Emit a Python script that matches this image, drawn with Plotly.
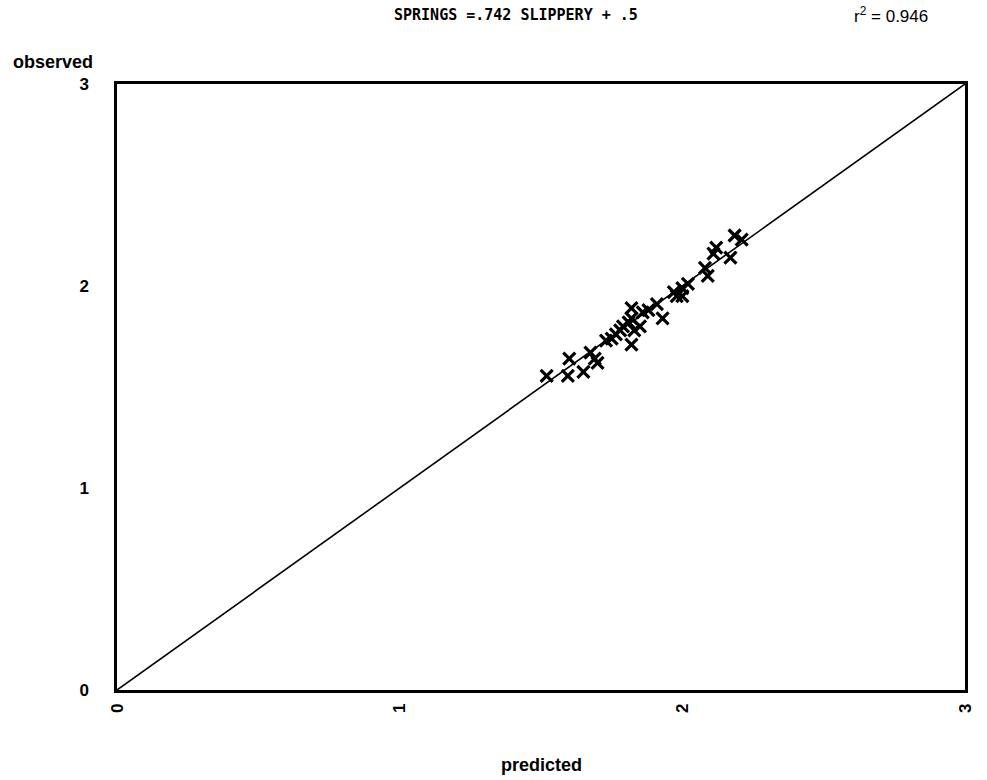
import plotly.graph_objects as go

# Predicted vs observed values for each sample
predicted = [1.52, 1.60, 1.595, 1.65, 1.675, 1.69, 1.70, 1.73, 1.75, 1.765,
             1.78, 1.79, 1.81, 1.82, 1.82, 1.83, 1.82, 1.85, 1.86, 1.88,
             1.91, 1.93, 1.97, 1.98, 2.00, 2.00, 2.02, 2.08, 2.09, 2.11,
             2.12, 2.17, 2.185, 2.21]
observed = [1.555, 1.64, 1.555, 1.575, 1.67, 1.64, 1.62, 1.73, 1.74, 1.76,
            1.78, 1.80, 1.82, 1.84, 1.89, 1.78, 1.71, 1.80, 1.87, 1.88,
            1.91, 1.84, 1.97, 1.95, 1.99, 1.95, 2.01, 2.09, 2.05, 2.16,
            2.19, 2.14, 2.25, 2.23]

# Line of perfect agreement
line_x = [0, 3]
line_y = [0, 3]

tick_vals = [0, 1, 2, 3]
tick_text = ["0", "1", "2", "3"]

fig = go.Figure()
fig.add_trace(go.Scatter(x=line_x, y=line_y, mode="lines",
                         line=dict(color="black", width=1.6),
                         hoverinfo="skip", showlegend=False))
fig.add_trace(go.Scatter(x=predicted, y=observed, mode="markers",
                         marker=dict(symbol="x-thin", size=12, color="black",
                                     line=dict(color="black", width=3.2)),
                         showlegend=False))

axis_common = dict(range=[0, 3], tickvals=tick_vals, ticktext=tick_text,
                   showgrid=False, zeroline=False, showline=True, mirror=True,
                   linecolor="black", linewidth=2.5, ticks="",
                   tickfont=dict(family="Liberation Sans", size=17, color="black",
                                 weight="bold"))

fig.update_xaxes(**axis_common, tickangle=-90, ticklabelstandoff=4)
fig.update_yaxes(**axis_common, ticklabelstandoff=22)

fig.add_annotation(text="observed", xref="paper", yref="paper", x=-0.125, y=1.036,
                   xanchor="left", yanchor="middle", showarrow=False,
                   font=dict(family="Liberation Sans", size=18, color="black",
                             weight="bold"))
fig.add_annotation(text="predicted", xref="paper", yref="paper", x=0.5, y=-0.124,
                   xanchor="center", yanchor="middle", showarrow=False,
                   font=dict(family="Liberation Sans", size=18, color="black",
                             weight="bold"))
fig.add_annotation(text="SPRINGS =.742 SLIPPERY + .5", xref="paper", yref="paper",
                   x=0.47, y=1.114, xanchor="center", yanchor="middle",
                   showarrow=False,
                   font=dict(family="DejaVu Sans Mono", size=15, color="black",
                             weight="bold"))
fig.add_annotation(text="r<sup>2</sup> = 0.946", xref="paper", yref="paper",
                   x=0.913, y=1.114, xanchor="center", yanchor="middle",
                   showarrow=False,
                   font=dict(family="Liberation Sans", size=17, color="black"))

fig.update_layout(width=987, height=780,
                  margin=dict(l=117, r=12, t=84, b=90),
                  paper_bgcolor="white", plot_bgcolor="white")

fig.write_html("out.html")
